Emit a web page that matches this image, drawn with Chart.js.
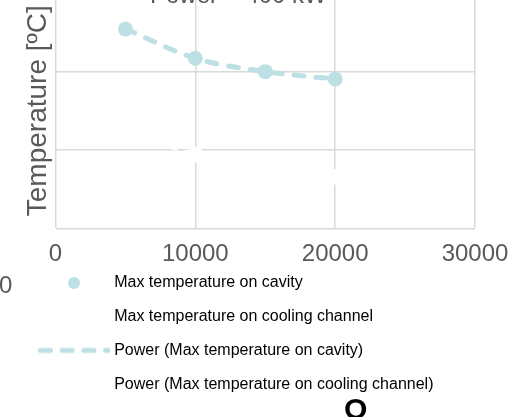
<!DOCTYPE html>
<html>
<head>
<meta charset="utf-8">
<script src="https://cdn.jsdelivr.net/npm/chart.js"></script>
<style>
  html, body { margin: 0; padding: 0; background: #fff; }
  body { width: 523px; height: 417px; overflow: hidden; position: relative; font-family: 'Liberation Sans', Arial, sans-serif; }
  #wrap { position: absolute; left: 0; top: -20px; width: 523px; height: 437px; }
  .txt { position: absolute; white-space: nowrap; }
  #titulo { left: 150px; top: -17.3px; font-size: 24px; line-height: 24px; color: #595959; }
  #cero { left: -1px; top: 272.7px; font-size: 24px; line-height: 24px; color: #595959; }
  #letraO { left: 344px; top: 394px; font-size: 30px; line-height: 30px; font-weight: bold; color: #000; }
</style>
</head>
<body>
<div id="wrap"><canvas id="tempChart" width="523" height="437"></canvas></div>
<div class="txt" id="titulo">Power = 400 kW</div>
<div class="txt" id="cero">0</div>
<div class="txt" id="letraO">O</div>
<script>
// datos
const caudal = [5000, 10000, 15000, 20000];
const tempCavidad = [127.1, 108.4, 99.9, 95.2];
const tempCanal = [64, 47, 39, 33];
const nombres = [
    'Max temperature on cavity',
    'Max temperature on cooling channel',
    'Power (Max temperature on cavity)',
    'Power (Max temperature on cooling channel)'
];
const xTicks = [0, 10000, 20000, 30000];
const yTicks = [0, 50, 100, 150];

const cyan = '#BCE0E3';
const gris = '#D9D9D9';
const fuente = "'Liberation Sans', Arial, sans-serif";

const puntos = arr => caudal.map((x, i) => ({ x: x, y: arr[i] }));

// simbolos de la leyenda (punto, linea punteada, vacio)
const simbolo = tipo => {
    const c = document.createElement('canvas');
    c.width = 72; c.height = 16;
    const g = c.getContext('2d');
    g.fillStyle = cyan; g.strokeStyle = cyan;
    if (tipo === 'punto') {
        g.beginPath(); g.arc(36, 8, 6, 0, Math.PI * 2); g.fill();
    } else if (tipo === 'linea') {
        g.lineWidth = 5; g.lineCap = 'round';
        g.setLineDash([10, 11.7]);
        g.beginPath(); g.moveTo(2.5, 8); g.lineTo(72, 8); g.stroke();
    }
    return c;
};
const simbolos = [simbolo('punto'), simbolo('vacio'), simbolo('linea'), simbolo('vacio')];

const data = {
    datasets: [
        {
            label: nombres[0],
            data: puntos(tempCavidad),
            backgroundColor: cyan,
            borderColor: cyan,
            pointRadius: 7.5,
            pointBorderWidth: 0,
            showLine: false,
        },
        {
            label: nombres[1],
            data: puntos(tempCanal),
            backgroundColor: '#FFFFFF',
            borderColor: '#FFFFFF',
            pointRadius: 8,
            pointBorderWidth: 0,
            showLine: false,
        },
        {
            label: nombres[2],
            data: puntos(tempCavidad),
            borderColor: cyan,
            backgroundColor: cyan,
            borderWidth: 5,
            borderDash: [10, 12],
            borderCapStyle: 'round',
            cubicInterpolationMode: 'monotone',
            pointRadius: 0,
            showLine: true,
        },
        {
            label: nombres[3],
            data: puntos(tempCanal),
            borderColor: '#FFFFFF',
            backgroundColor: '#FFFFFF',
            borderWidth: 5,
            borderDash: [10, 12],
            borderCapStyle: 'round',
            cubicInterpolationMode: 'monotone',
            pointRadius: 0,
            showLine: true,
        }
    ]
};

const options = {
    responsive: false,
    animation: false,
    devicePixelRatio: 1,
    layout: { padding: { top: 13, right: 48, bottom: 14.9, left: 24 } },
    plugins: {
        title: { display: false },
        tooltip: { enabled: false },
        legend: {
            display: true,
            position: 'bottom',
            align: 'start',
            // titulo vacio con alto negativo: deja espacio a las etiquetas del eje x
            title: { display: true, text: '', font: { size: 1, lineHeight: 1 }, padding: { top: 0, bottom: -11.7 } },
            labels: {
                usePointStyle: true,
                pointStyleWidth: 64.5,
                padding: 17.7,
                color: '#000000',
                font: { size: 16, family: fuente },
                generateLabels: chart => {
                    const items = Chart.defaults.plugins.legend.labels.generateLabels(chart);
                    items.forEach((it, i) => { it.pointStyle = simbolos[i]; });
                    return items;
                }
            }
        }
    },
    scales: {
        x: {
            type: 'linear',
            min: xTicks[0],
            max: xTicks[xTicks.length - 1],
            afterBuildTicks: axis => { axis.ticks = xTicks.map(v => ({ value: v })); },
            afterFit: axis => { axis.height = 39.5; },
            grid: { color: gris, lineWidth: 1.5, drawTicks: false },
            border: { display: false },
            ticks: {
                color: '#595959',
                padding: 6,
                maxRotation: 0,
                font: { size: 24, family: fuente, lineHeight: 1.667 },
                callback: v => String(v)
            }
        },
        y: {
            type: 'linear',
            min: yTicks[0],
            max: yTicks[yTicks.length - 1],
            afterBuildTicks: axis => { axis.ticks = yTicks.map(v => ({ value: v })); },
            grid: { color: gris, lineWidth: 1.5, drawTicks: false },
            border: { display: false },
            ticks: { display: false },
            title: {
                display: true,
                text: 'Temperature [ºC]',
                color: '#595959',
                font: { size: 28, family: fuente, lineHeight: 1 },
                padding: { top: 0, bottom: 3.5 }
            }
        }
    }
};

new Chart('tempChart', {
    type: 'scatter',
    data,
    options
});
</script>
</body>
</html>
